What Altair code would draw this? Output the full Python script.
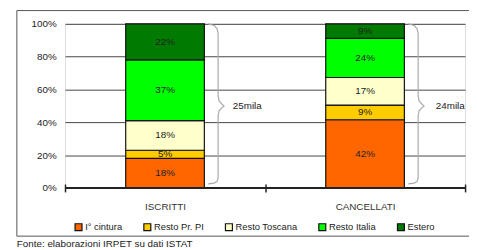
import altair as alt
import pandas as pd

categories = ["ISCRITTI", "CANCELLATI"]
series = ["I° cintura", "Resto Pr. PI", "Resto Toscana", "Resto Italia", "Estero"]
iscritti = [18, 5, 18, 37, 22]
cancellati = [42, 9, 17, 24, 9]
totals = ["25mila", "24mila"]
colors = ["#FF6600", "#FFCC00", "#FFFFCC", "#00FF00", "#007A00"]
source_note = "Fonte: elaborazioni IRPET su dati ISTAT"

FONT = "Liberation Sans"

rows = []
for cat, vals in zip(categories, [iscritti, cancellati]):
    for k, (s, v) in enumerate(zip(series, vals)):
        rows.append(dict(cat=cat, serie=s, val=v, ord=k, label=f"{v}%"))
df = pd.DataFrame(rows)

# brace shape (style): horizontal pixel offset from bar centre, fraction of bar height
BRACE_DX = [44, 50, 53, 54, 54, 55, 58, 60, 58, 55, 54, 54, 53, 50, 44]
BRACE_FY = [1.0, 0.99, 0.97, 0.94, 0.56, 0.53, 0.51, 0.50, 0.49, 0.47, 0.44, 0.06, 0.04, 0.03, 0.025]
brace_rows = []
for cat in categories:
    for i, (dx, fy) in enumerate(zip(BRACE_DX, BRACE_FY)):
        brace_rows.append(dict(cat=cat, i=i, dx=dx, fy=fy))
brace_df = pd.DataFrame(brace_rows)
tot_df = pd.DataFrame(dict(cat=categories, txt=totals, dx=[69, 72], fy=[0.5, 0.5]))

W, H = 407, 167
HALF_BAND = W / len(categories) / 2

xscale = alt.Scale(domain=categories, paddingInner=0, paddingOuter=0)
xaxis = alt.Axis(title=None, labelAngle=0, domain=False, tickBand="extent", tickSize=8,
                 offset=-4, tickColor="#222", tickWidth=1.5, labelPadding=10,
                 labelFontSize=10, labelColor="#333", labelFont=FONT, grid=False)
yscale = alt.Scale(domain=[0, 1])
yaxis = alt.Axis(format="%", values=[0, 0.2, 0.4, 0.6, 0.8, 1], title=None, domain=False,
                 ticks=False, labelPadding=9, gridColor="#444", gridWidth=1,
                 labelFontSize=10, labelColor="#222", labelFont=FONT, labelOverlap=False)
offscale = alt.Scale(domain=[0, 100], range=[HALF_BAND, HALF_BAND + 100])


def X():
    return alt.X("cat:N", scale=xscale, axis=xaxis, sort=categories)


def Y(field):
    return alt.Y(field, scale=yscale, axis=yaxis)


base = alt.Chart(df).transform_stack(
    stack="val", groupby=["cat"], as_=["y0", "y1"], offset="normalize",
    sort=[alt.SortField("ord")]
).transform_calculate(mid="(datum.y0 + datum.y1) / 2")

bars = base.mark_bar(width=80, stroke="#111", strokeWidth=1.2).encode(
    x=X(),
    y=Y("y0:Q"),
    y2="y1:Q",
    color=alt.Color("serie:N", scale=alt.Scale(domain=series, range=colors),
                    legend=alt.Legend(title=None, orient="none", legendX=9, legendY=202,
                                      direction="horizontal", columns=5, symbolType="square",
                                      symbolSize=50, symbolStrokeColor="#111",
                                      symbolStrokeWidth=1.2, labelFontSize=9.5,
                                      labelColor="#222", labelFont=FONT,
                                      columnPadding=18, labelOffset=2)),
)

texts = base.mark_text(fontSize=10, color="#222", font=FONT).encode(
    x=X(),
    y=Y("mid:Q"),
    text="label:N",
)

baseline = alt.Chart(pd.DataFrame({"z": [0]})).mark_rule(color="#222", strokeWidth=2).encode(
    y=Y("z:Q")
)

brace = alt.Chart(brace_df).mark_line(color="#aaa", strokeWidth=1.2, interpolate="linear").encode(
    x=X(),
    xOffset=alt.XOffset("dx:Q", scale=offscale),
    y=Y("fy:Q"),
    detail="cat:N",
    order="i:Q",
)

tot = alt.Chart(tot_df).mark_text(align="left", baseline="middle", fontSize=10,
                                   color="#222", font=FONT).encode(
    x=X(),
    xOffset=alt.XOffset("dx:Q", scale=offscale),
    y=Y("fy:Q"),
    text="txt:N",
)

frame = alt.Chart(pd.DataFrame({"z": [0]})).mark_rect(fill="transparent", stroke="#555",
                                                     strokeWidth=1).encode(
    x=alt.value(-49), x2=alt.value(430), y=alt.value(-13.5), y2=alt.value(216)
)

footer = alt.Chart(pd.DataFrame({"t": [source_note]})).mark_text(
    align="left", baseline="middle", fontSize=10, color="#222", font=FONT
).encode(x=alt.value(-49), y=alt.value(224), text="t:N")

chart = alt.layer(frame, bars, baseline, texts, brace, tot, footer).properties(
    width=W, height=H, autosize="none",
    padding={"left": 58, "top": 14, "right": 4, "bottom": 62},
).configure_view(stroke=None).configure(font=FONT)

chart.save("out.html", embed_options={"renderer": "svg", "actions": False})
